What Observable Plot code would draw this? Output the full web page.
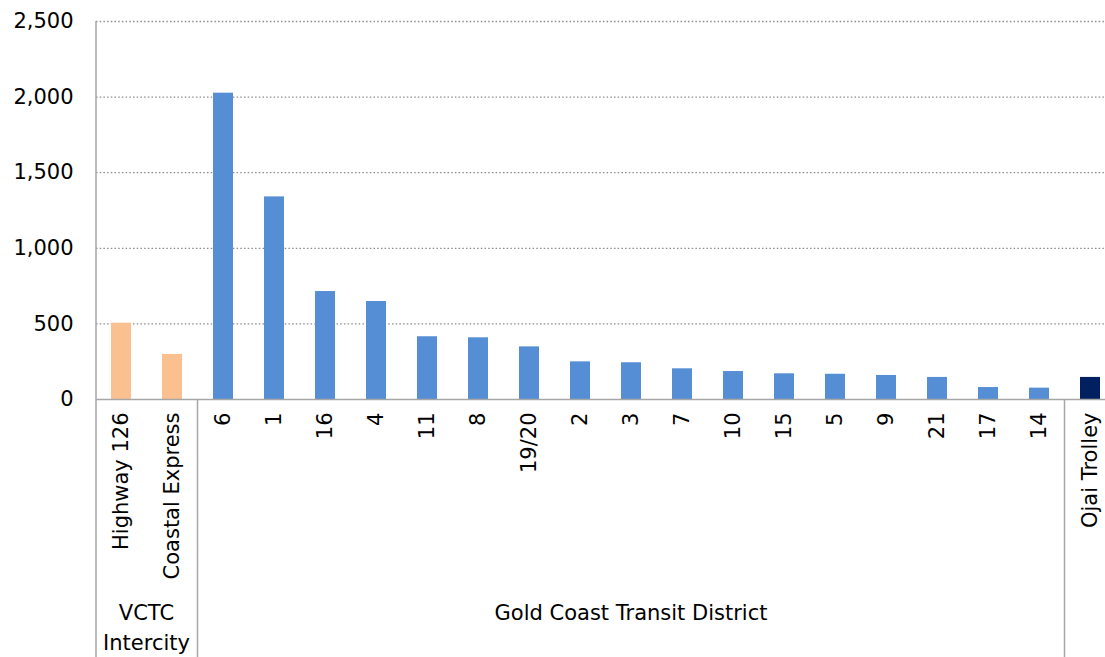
<!DOCTYPE html>
<html>
<head>
<meta charset="utf-8">
<script src="https://cdn.jsdelivr.net/npm/d3@7"></script>
<script src="https://cdn.jsdelivr.net/npm/@observablehq/plot@0.6"></script>
<style>
  html, body { margin: 0; padding: 0; background: #fff; }
  #chart svg { display: block; }
</style>
</head>
<body>
<div id="chart"></div>
<script>
// Average weekday boardings by route
const routes = ["Highway 126", "Coastal Express", "6", "1", "16", "4", "11", "8", "19/20", "2", "3", "7", "10", "15", "5", "9", "21", "17", "14", "Ojai Trolley"];
const boardings = [505, 298, 2026, 1340, 714, 648, 415, 408, 348, 249, 243, 203, 185, 170, 167, 159, 146, 79, 75, 146];
const operators = ["VCTC", "VCTC", "GCTD", "GCTD", "GCTD", "GCTD", "GCTD", "GCTD", "GCTD", "GCTD", "GCTD", "GCTD", "GCTD", "GCTD", "GCTD", "GCTD", "GCTD", "GCTD", "GCTD", "Ojai"];

// Operator names (one entry per text line) and bar colours
const operatorKeys = ["VCTC", "GCTD", "Ojai"];
const operatorNames = [["VCTC", "Intercity"], ["Gold Coast Transit District"], []];
const operatorColors = ["#FAC090", "#558ED5", "#002060"];

const yTicks = [0, 500, 1000, 1500, 2000, 2500];
const FONT = "'DejaVu Sans', sans-serif";

const rows = routes.map((route, i) => ({route, boardings: boardings[i], operator: operators[i]}));

// Contiguous runs of routes belonging to the same operator
const runs = [];
routes.forEach((route, i) => {
  const last = runs[runs.length - 1];
  if (last && last.key === operators[i]) last.last = route;
  else runs.push({key: operators[i], first: route, last: route, lines: operatorNames[operatorKeys.indexOf(operators[i])]});
});

// Draws the operator brackets below the route labels: left axis line,
// separators between operators and the operator names.
function operatorBrackets(index, scales, values, dimensions) {
  const x = scales.x;
  const bw = x.bandwidth();
  const pad = (x.step() - bw) / 2;
  const base = scales.y(0);
  const {height, marginLeft, marginTop} = dimensions;
  const g = d3.create("svg:g")
    .attr("font-family", FONT)
    .attr("font-size", 21)
    .attr("fill", "#000")
    .attr("stroke-width", 1.5);
  g.append("line")
    .attr("x1", marginLeft).attr("x2", marginLeft)
    .attr("y1", marginTop).attr("y2", height)
    .attr("stroke", "#A6A6A6");
  runs.forEach((run, i) => {
    const left = x(run.first) - pad;
    const right = x(run.last) + bw + pad;
    if (i > 0) {
      g.append("line")
        .attr("x1", left).attr("x2", left)
        .attr("y1", base).attr("y2", height)
        .attr("stroke", "#A6A6A6");
    }
    run.lines.forEach((line, j) => {
      g.append("text")
        .attr("x", (left + right) / 2)
        .attr("y", height - 43 + j * 30)
        .attr("text-anchor", "middle")
        .attr("dominant-baseline", "middle")
        .text(line);
    });
  });
  return g.node();
}

const chart = Plot.plot({
  width: 1105,
  height: 657,
  marginLeft: 96,
  marginRight: 0,
  marginTop: 21,
  marginBottom: 258,
  style: {fontFamily: FONT, fontSize: "21px", color: "#000", background: "#fff"},
  x: {domain: routes, range: [96, 1116], paddingInner: 0.6, paddingOuter: 0.3, label: null},
  y: {domain: [0, 2500], label: null},
  color: {domain: operatorKeys, range: operatorColors},
  marks: [
    Plot.gridY(yTicks.filter(d => d > 0), {stroke: "#8C8C8C", strokeOpacity: 1, strokeWidth: 1.3, strokeDasharray: "1.5,2.2"}),
    Plot.barY(rows, {x: "route", y: "boardings", fill: "operator"}),
    Plot.ruleY([0], {stroke: "#A6A6A6", strokeWidth: 1.5}),
    Plot.axisY({ticks: yTicks, tickSize: 0, tickPadding: 23, tickFormat: d3.format(","), label: null}),
    Plot.axisX({tickRotate: -90, tickSize: 0, tickPadding: 13, label: null}),
    operatorBrackets
  ]
});

document.getElementById("chart").append(chart);
</script>
</body>
</html>
